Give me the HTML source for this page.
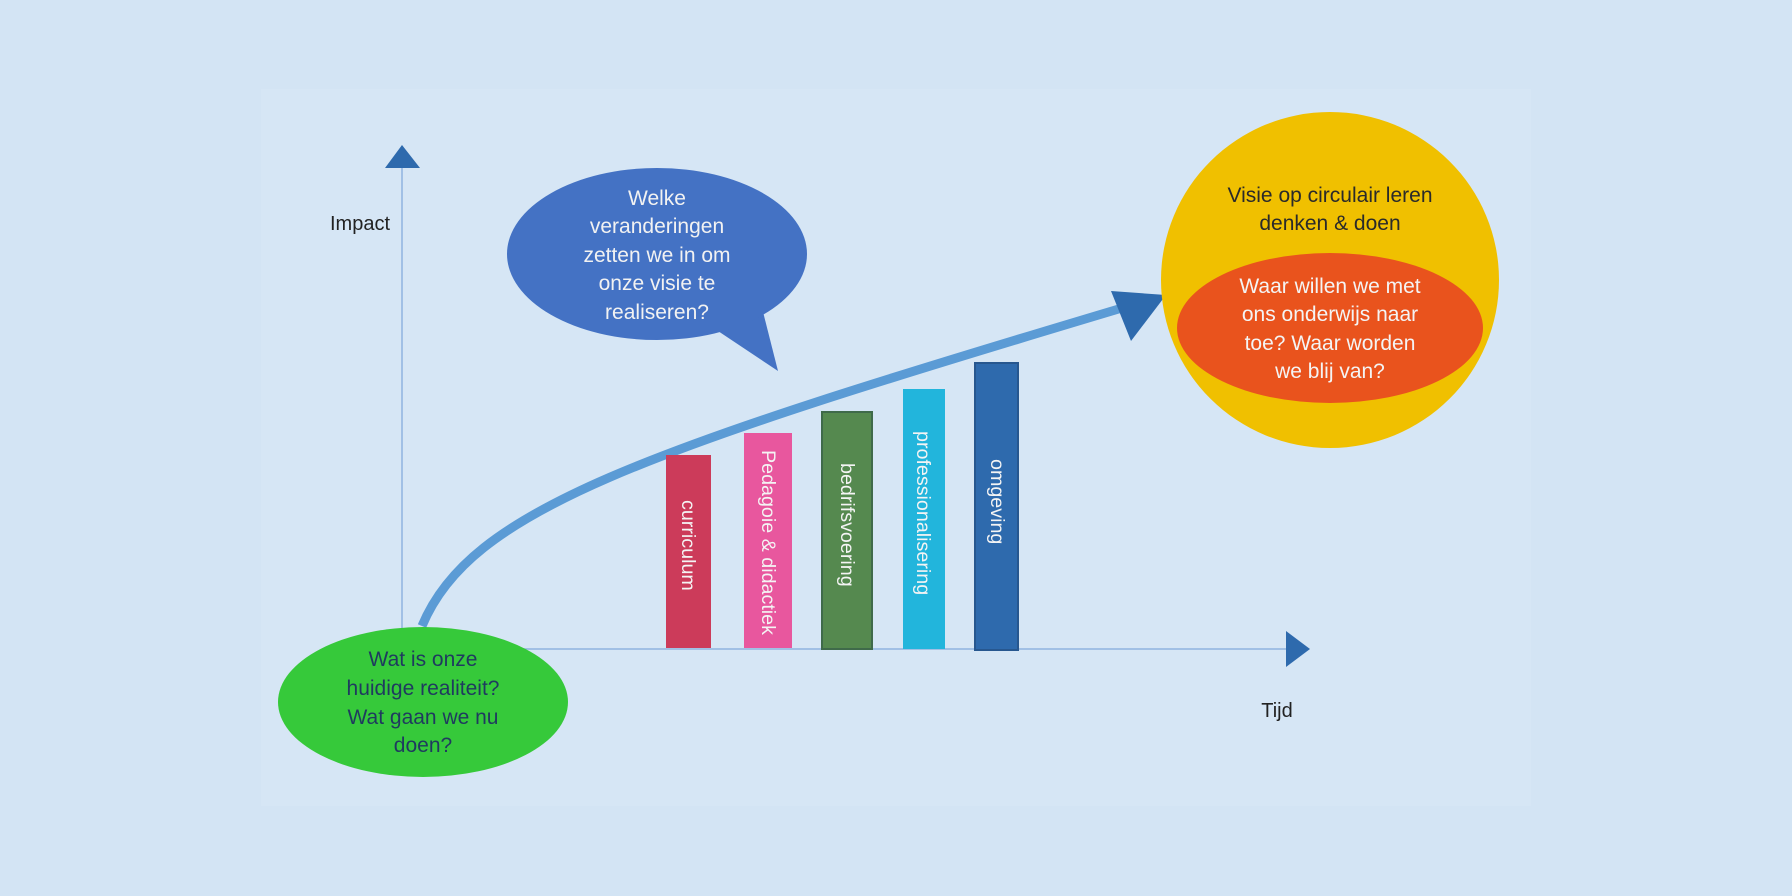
<!DOCTYPE html>
<html><head><meta charset="utf-8"><style>
html,body{margin:0;padding:0;background:#d3e4f4;}
svg{display:block;}
text{font-family:"Liberation Sans",sans-serif;}
</style></head><body>
<svg width="1792" height="896" viewBox="0 0 1792 896" xmlns="http://www.w3.org/2000/svg">
<rect width="1792" height="896" fill="#d3e4f4"/>
<rect x="261" y="89" width="1270" height="717" fill="#d6e6f5"/>
<!-- axes -->
<line x1="402" y1="166" x2="402" y2="649" stroke="#8fb4e0" stroke-width="1.5"/>
<polygon points="402,145 385,168 420,168" fill="#2e6aad"/>
<line x1="402" y1="649" x2="1288" y2="649" stroke="#8fb4e0" stroke-width="1.5"/>
<polygon points="1286,631 1310,649 1286,667" fill="#2e6aad"/>
<text x="360" y="230" font-size="20" fill="#222" text-anchor="middle">Impact</text>
<text x="1277" y="717" font-size="20" fill="#222" text-anchor="middle">Tijd</text>
<!-- curve -->
<path d="M422,626 C470,510 640,452 1122,308" fill="none" stroke="#5b9bd5" stroke-width="9"/>
<polygon points="1111,291 1166,295 1131,341" fill="#2e6aad"/>
<!-- bars -->
<rect x="666" y="455" width="45" height="193" fill="#cc3b5a"/>
<rect x="744" y="433" width="48" height="215" fill="#e8579e"/>
<rect x="822" y="412" width="50" height="237" fill="#55894f" stroke="#3f6a4a" stroke-width="2"/>
<rect x="903" y="389" width="42" height="260" fill="#22b5dc"/>
<rect x="975" y="363" width="43" height="287" fill="#2e6aad" stroke="#27578f" stroke-width="2"/>
<g font-size="19.7" fill="#f4f4f4" dominant-baseline="central">
<text transform="translate(688,500) rotate(90)">curriculum</text>
<text transform="translate(768,450) rotate(90)">Pedagoie &amp; didactiek</text>
<text transform="translate(847,463) rotate(90)">bedrifsvoering</text>
<text transform="translate(923,431) rotate(90)">professionalisering</text>
<text transform="translate(997,459) rotate(90)">omgeving</text>
</g>
<!-- blue bubble -->
<polygon points="709,325 760,300 778,371" fill="#4472c4"/>
<ellipse cx="657" cy="254" rx="150" ry="86" fill="#4472c4"/>
<g font-size="21" fill="#f2f2f2" text-anchor="middle">
<text x="657" y="205">Welke</text>
<text x="657" y="233">veranderingen</text>
<text x="657" y="262">zetten we in om</text>
<text x="657" y="290">onze visie te</text>
<text x="657" y="319">realiseren?</text>
</g>
<!-- green -->
<ellipse cx="423" cy="702" rx="145" ry="75" fill="#36c93a"/>
<g font-size="21" fill="#1f3a5f" text-anchor="middle">
<text x="423" y="666">Wat is onze</text>
<text x="423" y="695">huidige realiteit?</text>
<text x="423" y="724">Wat gaan we nu</text>
<text x="423" y="752">doen?</text>
</g>
<!-- yellow/orange -->
<ellipse cx="1330" cy="280" rx="169" ry="168" fill="#f0c000"/>
<ellipse cx="1330" cy="328" rx="153" ry="75" fill="#e9531d"/>
<g font-size="21" text-anchor="middle">
<text x="1330" y="202" fill="#2a2a2a">Visie op circulair leren</text>
<text x="1330" y="230" fill="#2a2a2a">denken &amp; doen</text>
<text x="1330" y="293" fill="#f4f4f4">Waar willen we met</text>
<text x="1330" y="321" fill="#f4f4f4">ons onderwijs naar</text>
<text x="1330" y="350" fill="#f4f4f4">toe? Waar worden</text>
<text x="1330" y="378" fill="#f4f4f4">we blij van?</text>
</g>
</svg>
</body></html>
